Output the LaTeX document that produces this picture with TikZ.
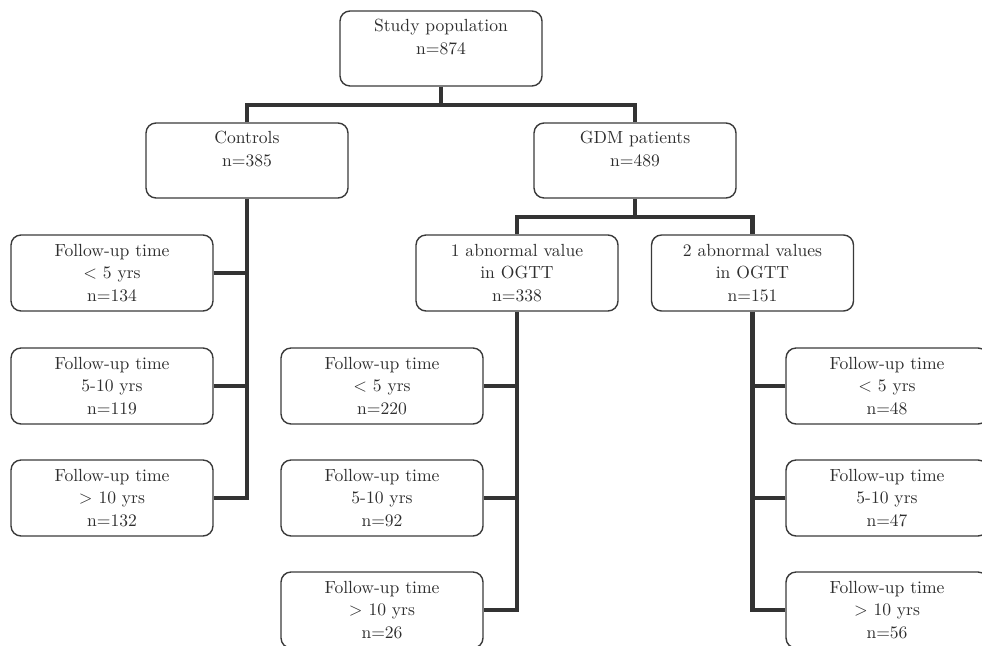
\documentclass[tikz,border=0pt]{standalone}
\definecolor{boxgray}{HTML}{3A3A3A}
\definecolor{linkgray}{HTML}{333333}
\definecolor{txtgray}{HTML}{2E2E2E}
\tikzset{
    box/.style={draw=boxgray, line width=.8pt, rounded corners=.2cm,
        minimum width=4.04cm, minimum height=1.52cm, inner sep=0pt,
        align=center, text=txtgray, font=\fontsize{10}{13}\selectfont},
    link/.style={draw=linkgray, line width=2.3pt},
}
\newcommand{\followup}[4]{
    \node[box] (#1) at #2 {Follow-up time\\#3\\n=#4};
}

\begin{document}
\begin{tikzpicture}[x=0.02cm, y=-0.02cm]
    % cadre
    \clip (0,0) rectangle (982,645);
    \useasboundingbox (0,0) rectangle (982,645);

    % haut
    \node[box, minimum height=1.5cm] (study) at (441,48.5) {Study population\\n=874\\\mbox{}};
    \node[box, minimum height=1.5cm] (ctrl) at (247,160.5) {Controls\\n=385\\\mbox{}};
    \node[box, minimum height=1.5cm] (gdm) at (635,160.5) {GDM patients\\n=489\\\mbox{}};
    \node[box] (ab1) at (517,273) {1 abnormal value\\in OGTT\\n=338};
    \node[box] (ab2) at (752.5,273) {2 abnormal values\\in OGTT\\n=151};

    % controles
    \followup{c1}{(112,273)}{\textless{} 5 yrs}{134}
    \followup{c2}{(112,386)}{5-10 yrs}{119}
    \followup{c3}{(112,498)}{\textgreater{} 10 yrs}{132}

    % 1 valeur
    \followup{m1}{(382,386)}{\textless{} 5 yrs}{220}
    \followup{m2}{(382,498)}{5-10 yrs}{92}
    \followup{m3}{(382,610)}{\textgreater{} 10 yrs}{26}

    % 2 valeurs
    \followup{r1}{(887,386)}{\textless{} 5 yrs}{48}
    \followup{r2}{(887,498)}{5-10 yrs}{47}
    \followup{r3}{(887,610)}{\textgreater{} 10 yrs}{56}

    % branches
    \coordinate (top) at (441,105);
    \coordinate (mid) at (635,217);
    \draw[link] (study.south) -- (top);
    \draw[link] (ctrl.north) |- (top) -| (gdm.north);
    \draw[link] (gdm.south) -- (mid);
    \draw[link] (ab1.north) |- (mid) -| (ab2.north);

    % suivis
    \draw[link] (ctrl.south) |- (c3.east);
    \draw[link] (c1.east) -- (c1.east -| ctrl.south);
    \draw[link] (c2.east) -- (c2.east -| ctrl.south);
    \draw[link] (ab1.south) |- (m3.east);
    \draw[link] (m1.east) -- (m1.east -| ab1.south);
    \draw[link] (m2.east) -- (m2.east -| ab1.south);
    \draw[link] (ab2.south) |- (r3.west);
    \draw[link] (r1.west) -- (r1.west -| ab2.south);
    \draw[link] (r2.west) -- (r2.west -| ab2.south);
\end{tikzpicture}
\end{document}
